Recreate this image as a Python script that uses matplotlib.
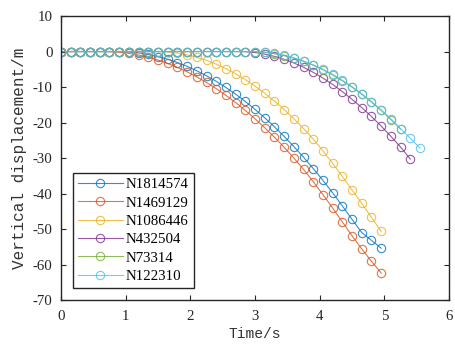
import matplotlib
matplotlib.use("Agg")
import matplotlib.pyplot as plt

time_s = [0.0, 0.15, 0.3, 0.45, 0.6, 0.75, 0.9, 1.05, 1.2, 1.35, 1.5, 1.65, 1.8, 1.95,
          2.1, 2.25, 2.4, 2.55, 2.7, 2.85, 3.0, 3.15, 3.3, 3.45, 3.6, 3.75, 3.9, 4.05,
          4.2, 4.35, 4.5, 4.65, 4.8, 4.95, 5.1, 5.25, 5.4, 5.55]

labels = ["N1814574", "N1469129", "N1086446", "N432504", "N73314", "N122310"]
colors = ["#0072BD", "#D95319", "#EDB120", "#7E2F8E", "#77AC30", "#4DBEEE"]

n1814574 = [0, 0, 0, 0, 0, 0, 0, -0.12, -0.39, -0.83, -1.42, -2.18, -3.10, -4.19,
            -5.43, -6.84, -8.40, -10.13, -12.02, -14.07, -16.29, -18.66, -21.20, -23.90,
            -26.76, -29.78, -32.96, -36.30, -39.81, -43.48, -47.30, -51.0, -53.2, -55.4]
n1469129 = [0, 0, 0, 0, 0, -0.02, -0.18, -0.50, -0.98, -1.61, -2.40, -3.35, -4.46, -5.72,
            -7.14, -8.71, -10.45, -12.34, -14.38, -16.59, -18.95, -21.47, -24.14, -26.97,
            -30.0, -33.2, -36.7, -40.3, -44.1, -48.0, -51.9, -55.6, -59.1, -62.4]
n1086446 = [0, 0, 0, 0, 0, 0, 0, 0, 0, 0, 0, -0.12, -0.43, -0.93,
            -1.62, -2.50, -3.56, -4.82, -6.27, -7.90, -9.73, -11.74, -13.95, -16.34,
            -18.92, -21.69, -24.66, -28.0, -31.5, -35.2, -39.0, -42.8, -46.7, -50.7]
n432504 = [0, 0, 0, 0, 0, 0, 0, 0, 0, 0, 0, 0, 0, 0, 0, 0, 0, 0, 0,
           -0.05, -0.29, -0.73, -1.36, -2.19, -3.22, -4.44, -5.85, -7.47, -9.27, -11.28,
           -13.47, -15.8, -18.3, -21.0, -23.9, -26.9, -30.3]
n73314 = [0, 0, 0, 0, 0, 0, 0, 0, 0, 0, 0, 0, 0, 0, 0, 0, 0, 0, 0, 0,
          -0.05, -0.25, -0.62, -1.15, -1.88, -2.80, -3.88, -5.15, -6.60, -8.25,
          -10.05, -12.05, -14.25, -16.6, -19.15, -21.85]
n122310 = [0, 0, 0, 0, 0, 0, 0, 0, 0, 0, 0, 0, 0, 0, 0, 0, 0, 0, 0, 0,
           -0.01, -0.18, -0.53, -1.06, -1.77, -2.67, -3.75, -5.01, -6.46, -8.09,
           -9.90, -11.90, -14.08, -16.44, -18.99, -21.72, -24.4, -27.2]

series = [n1814574, n1469129, n1086446, n432504, n73314, n122310]

x_ticks = [0, 1, 2, 3, 4, 5, 6]
y_ticks = [10, 0, -10, -20, -30, -40, -50, -60, -70]

fig = plt.figure(figsize=(4.55, 3.51), dpi=100)
ax = fig.add_axes([0.134, 0.1453, 0.853, 0.809])

for vals, lab, col in zip(series, labels, colors):
    ax.plot(time_s[:len(vals)], vals, color=col, lw=0.8, marker='o', ms=6,
            mfc='none', mew=0.8, alpha=0.8, label=lab)

ax.set_xlim(0, 6)
ax.set_ylim(-70, 10)
ax.set_xticks(x_ticks)
ax.set_yticks(y_ticks)
ax.set_xticklabels([str(v) for v in x_ticks], family="Liberation Serif", fontsize=10.7)
ax.set_yticklabels([str(v) for v in y_ticks], family="Liberation Serif", fontsize=10.7)
ax.tick_params(direction='in', length=3.5, width=0.8, top=True, right=True,
               colors='#262626')
ax.tick_params(axis='x', pad=7)
ax.tick_params(axis='y', pad=6)
for sp in ax.spines.values():
    sp.set_linewidth(1.0)
    sp.set_color('#262626')

ax.set_xlabel("Time/s", family="Liberation Mono", fontsize=10.5, color='#333333', labelpad=3)
ax.set_ylabel("Vertical displacement/m", family="Liberation Mono", fontsize=11.5,
              color='#333333', labelpad=4)

leg = ax.legend(loc='lower left', bbox_to_anchor=(0.031, 0.042), borderaxespad=0,
                prop={'family': 'Liberation Serif', 'size': 10.7}, fancybox=False,
                edgecolor='#262626', framealpha=1, handlelength=3.0, handletextpad=0.2,
                labelspacing=0.33, borderpad=0.35)
leg.get_frame().set_linewidth(1.0)

fig.savefig("out.png", dpi=100)
